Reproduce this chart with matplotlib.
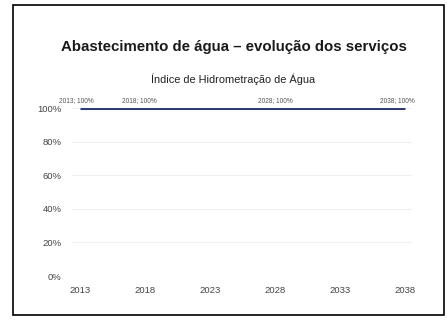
import matplotlib.pyplot as plt
from matplotlib.patches import Rectangle
from matplotlib.ticker import PercentFormatter

# data
years = [2013, 2018, 2028, 2038]
indice = [1.0, 1.0, 1.0, 1.0]
point_labels = ['2013; 100%', '2018; 100%', '2028; 100%', '2038; 100%']
x_ticks = [2013, 2018, 2023, 2028, 2033, 2038]
y_ticks = [0, 0.2, 0.4, 0.6, 0.8, 1.0]

plt.rcParams['font.family'] = ['Liberation Sans', 'DejaVu Sans']

fig = plt.figure(figsize=(4.48, 3.2), dpi=100)
fig.patch.set_facecolor('white')

# frame around the chart
fig.patches.append(Rectangle((13 / 448, 1 - 315 / 320), 431 / 448, 310 / 320,
                             transform=fig.transFigure, fill=False,
                             edgecolor='black', linewidth=1.2))

fig.text(234 / 448, 1 - 47 / 320, 'Abastecimento de água – evolução dos serviços',
         ha='center', va='center', fontsize=10.8, fontweight='bold', color='#1a1a1a')
fig.text(233 / 448, 1 - 79 / 320, 'Índice de Hidrometração de Água',
         ha='center', va='center', fontsize=7.9, color='#222222')

ax = fig.add_axes([72 / 448, 1 - 276 / 320, 340 / 448, 168 / 320])
ax.plot(years, indice, color='#2f3a78', linewidth=2.2, solid_capstyle='butt')

offsets = [-0.3, -0.4, 0, -0.6]
for x, y, lab, dx in zip(years, indice, point_labels, offsets):
    ax.text(x + dx, y + 0.025, lab, ha='center', va='bottom', fontsize=4.7,
            color='#555555')

ax.set_xlim(2012.4, 2038.5)
ax.set_ylim(0, 1.0)
ax.set_xticks(x_ticks)
ax.set_yticks(y_ticks)
ax.yaxis.set_major_formatter(PercentFormatter(1.0, decimals=0))
ax.tick_params(axis='y', length=0, labelsize=6.8, labelcolor='#444444', pad=7.5)
ax.tick_params(axis='x', length=0, labelsize=6.8, labelcolor='#444444', pad=7)
ax.grid(axis='y', color='#f0f0f0', linewidth=0.8)
for s in ax.spines.values():
    s.set_visible(False)
ax.set_axisbelow(True)

fig.savefig('out.png', dpi=100)
